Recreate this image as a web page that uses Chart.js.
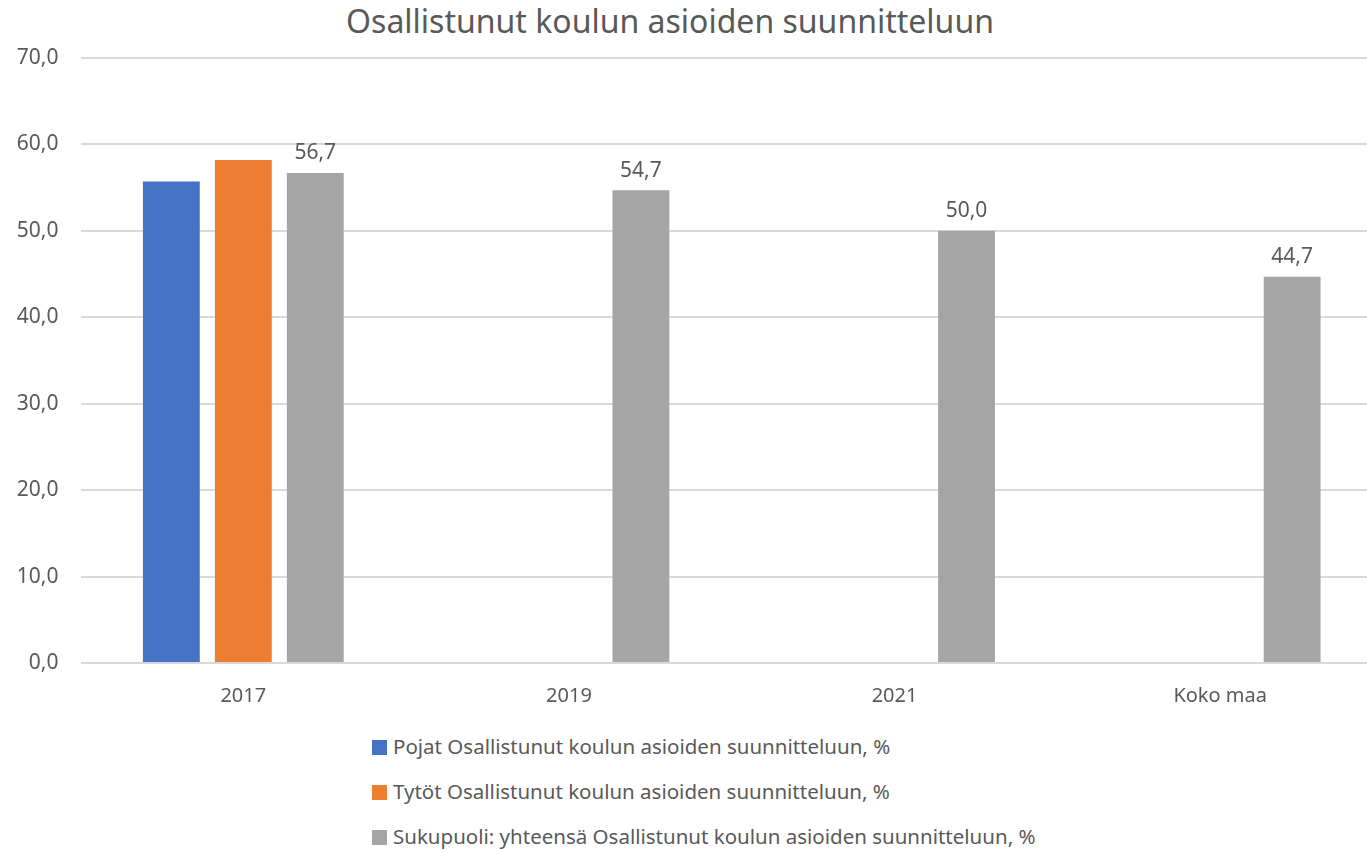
<!DOCTYPE html>
<html>
<head>
<meta charset="utf-8">
<script src="https://cdn.jsdelivr.net/npm/chart.js@4.4.1/dist/chart.umd.min.js"></script>
<style>
    body { margin: 0; background: #fff; overflow: hidden; font-family: "Noto Sans", sans-serif; color: #595959; }
    #wrap { position: relative; width: 1367px; height: 850px; overflow: hidden; }
    #title { position: absolute; left: 0; top: -1px; width: 1340px; text-align: center; font-size: 32px; }
    #chartBox { position: absolute; left: 0; top: 0; width: 1400px; height: 710px; }
    #legend { position: absolute; left: 372px; top: 732px; font-size: 20.5px; }
    .item { height: 45px; display: flex; align-items: flex-start; }
    .swatch { width: 15px; height: 15px; margin: 8px 6px 0 0; }
</style>
</head>
<body>
<div id="wrap">
    <div id="title">Osallistunut koulun asioiden suunnitteluun</div>
    <div id="chartBox"><canvas id="barChart" width="1400" height="710"></canvas></div>
    <div id="legend"></div>
</div>
<script>
// Chart data
const categories = ['2017', '2019', '2021', 'Koko maa'];
const pojat = [55.7, null, null, null];
const tytot = [58.2, null, null, null];
const yhteensa = [56.7, 54.7, 50.0, 44.7];
const seriesNames = [
    'Pojat Osallistunut koulun asioiden suunnitteluun, %',
    'Tytöt Osallistunut koulun asioiden suunnitteluun, %',
    'Sukupuoli: yhteensä Osallistunut koulun asioiden suunnitteluun, %'
];
const colors = ['#4472C4', '#ED7D31', '#A5A5A5'];

const fmt = v => v.toFixed(1).replace('.', ',');

// labels above the total bars only
const valueLabels = {
    id: 'valueLabels',
    afterDatasetsDraw(chart) {
        const ctx = chart.ctx;
        const meta = chart.getDatasetMeta(2);
        ctx.save();
        ctx.font = '21px "Noto Sans", sans-serif';
        ctx.fillStyle = '#595959';
        ctx.textAlign = 'center';
        ctx.textBaseline = 'bottom';
        meta.data.forEach((bar, i) => {
            const v = yhteensa[i];
            if (v == null) return;
            ctx.fillText(fmt(v), bar.x, bar.y - 9);
        });
        ctx.restore();
    }
};

const ctx = document.getElementById('barChart').getContext('2d');
const chart = new Chart(ctx, {
    type: 'bar',
    data: {
        labels: categories,
        datasets: [pojat, tytot, yhteensa].map((d, i) => ({
            label: seriesNames[i],
            data: d,
            backgroundColor: colors[i],
            borderWidth: 0,
            barPercentage: 0.79,
            categoryPercentage: 0.663
        }))
    },
    options: {
        responsive: false,
        animation: false,
        layout: { padding: { top: 58, right: 17, left: 0, bottom: 0 } },
        scales: {
            x: {
                grid: { display: false },
                border: { display: false },
                ticks: { color: '#595959', font: { family: 'Noto Sans', size: 20 }, padding: 13 },
                afterFit: s => { s.height = 47; }
            },
            y: {
                min: 0,
                max: 70,
                ticks: {
                    stepSize: 10,
                    color: '#595959',
                    font: { family: 'Noto Sans', size: 21 },
                    padding: 22,
                    callback: v => fmt(v)
                },
                grid: { color: '#D9D9D9', lineWidth: 2, drawTicks: false },
                border: { display: false },
                afterFit: s => { s.width = 80.5; }
            }
        },
        plugins: {
            legend: { display: false },
            tooltip: { enabled: false }
        }
    },
    plugins: [valueLabels]
});

// legend in page, stacked like the original
const legendEl = document.getElementById('legend');
chart.data.datasets.forEach(ds => {
    const row = document.createElement('div');
    row.className = 'item';
    row.innerHTML = `<span class="swatch" style="background:${ds.backgroundColor}"></span><span>${ds.label}</span>`;
    legendEl.appendChild(row);
});
</script>
</body>
</html>
